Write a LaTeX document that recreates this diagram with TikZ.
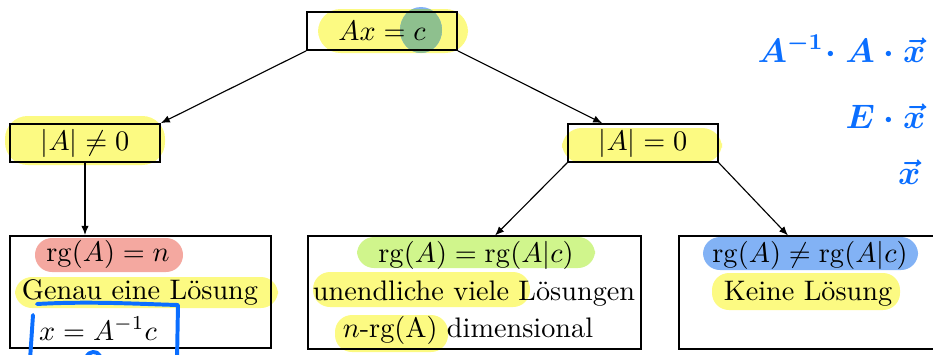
\documentclass[tikz,border=0pt]{standalone}
\usepackage{xcolor}
\usepackage{amsmath}
\usepackage{tikz}
\usetikzlibrary{arrows.meta}

\definecolor{hlyellow}{RGB}{252,250,130}
\definecolor{hlred}{RGB}{244,168,160}
\definecolor{hlgreen}{RGB}{208,245,140}
\definecolor{hlblue}{RGB}{130,178,245}
\definecolor{hlmix}{RGB}{142,192,142}
\definecolor{pen}{RGB}{10,110,255}

\begin{document}
\begin{tikzpicture}[
    x=0.354pt, y=-0.354pt,
    box/.style={draw, line width=0.6pt, inner sep=0pt},
    small/.style={box, minimum width=53.1pt, minimum height=13.45pt},
    big/.style={box, minimum height=39.8pt},
    txt/.style={inner sep=0pt, anchor=base},
    edge/.style={line width=0.4pt, -{Latex[length=3.2pt,width=2.6pt]}},
    hl/.style={rounded corners=6pt},
    hand/.style={text=pen, font=\large\boldmath, inner sep=0pt, anchor=base east},
    stroke/.style={draw=pen, line width=1.4pt, line cap=round, line join=round}
]
\useasboundingbox (0,0) rectangle (933,354);
\clip (0,0) rectangle (933,354);

% marker highlights
\fill[hlyellow, hl, rounded corners=8pt] (318,9) rectangle (468,53);
\fill[hlblue] (421,30) ellipse [x radius=21, y radius=23];
\begin{scope}
  \clip[hl, rounded corners=8pt] (318,9) rectangle (468,53);
  \fill[hlmix] (421,30) ellipse [x radius=21, y radius=23];
\end{scope}
\fill[hlyellow, hl, rounded corners=8pt] (5,116) rectangle (165,165);
\fill[hlyellow, hl, rounded corners=7pt] (562,128) rectangle (722,163);
\fill[hlred, hl] (35,238) rectangle (183,272);
\fill[hlyellow, hl] (15,277) rectangle (278,308);
\fill[hlgreen, hl] (357,237) rectangle (595,268);
\fill[hlyellow, hl] (313,272) rectangle (530,307);
\fill[hlyellow, hl] (335,315) rectangle (448,352);
\fill[hlblue, hl] (703,237) rectangle (918,270);
\fill[hlyellow, hl] (712,273) rectangle (900,310);

% boxes
\node[small] (top)  at (382,31)  {$Ax = c$};
\node[small] (lmid) at (85,143)  {$|A| \neq 0$};
\node[small] (rmid) at (643,143) {$|A| = 0$};
\node[big, minimum width=92.4pt]  (bl) at (140.5,292) {};
\node[big, minimum width=117.9pt] (bm) at (474.5,292.5) {};
\node[big, minimum width=92.7pt]  (br) at (810,292.5) {};

% lines in the boxes
\node[txt] (bl1) at (108,261) {$\mathrm{rg}(A) = n$};
\node[txt] (bl2) at (140,299) {Genau eine Lösung};
\node[txt] (bl3) at (98,340)  {$x = A^{-1}c$};
\node[txt] (bm1) at (476,262) {$\mathrm{rg}(A) = \mathrm{rg}(A|c)$};
\node[txt] (bm2) at (474,300) {unendliche viele Lösungen};
\node[txt] (bm3) at (468,337) {$n$-rg(A) dimensional};
\node[txt] (br1) at (810,262) {$\mathrm{rg}(A) \neq \mathrm{rg}(A|c)$};
\node[txt] (br2) at (808,300) {Keine Lösung};

% connectors
\draw[edge] (top.south west) -- (lmid.north east);
\draw[edge] (top.south east) -- ([xshift=12.4pt]rmid.north west);
\draw[edge] (lmid) -- (lmid |- bl.north);
\draw[edge] (rmid.south west) -- ([xshift=7.3pt]bm.north);
\draw[edge] (rmid.south east) -- ([xshift=-7.8pt]br.north);

% handwriting
\node[hand] (hw1) at (926,62)  {$A^{-1}\!\cdot A\cdot \vec{x}$};
\node[hand] (hw2) at (926,128) {$E\cdot \vec{x}$};
\node[hand] (hw3) at (921,184) {$\vec{x}$};
\draw[stroke] (37,304) .. controls (90,301) and (140,304) .. (178,305) -- (177,360);
\draw[stroke] (33,315) -- (30,360);
\draw[stroke] (86,357) .. controls (89,351) and (97,350) .. (100,356);
\end{tikzpicture}
\end{document}
